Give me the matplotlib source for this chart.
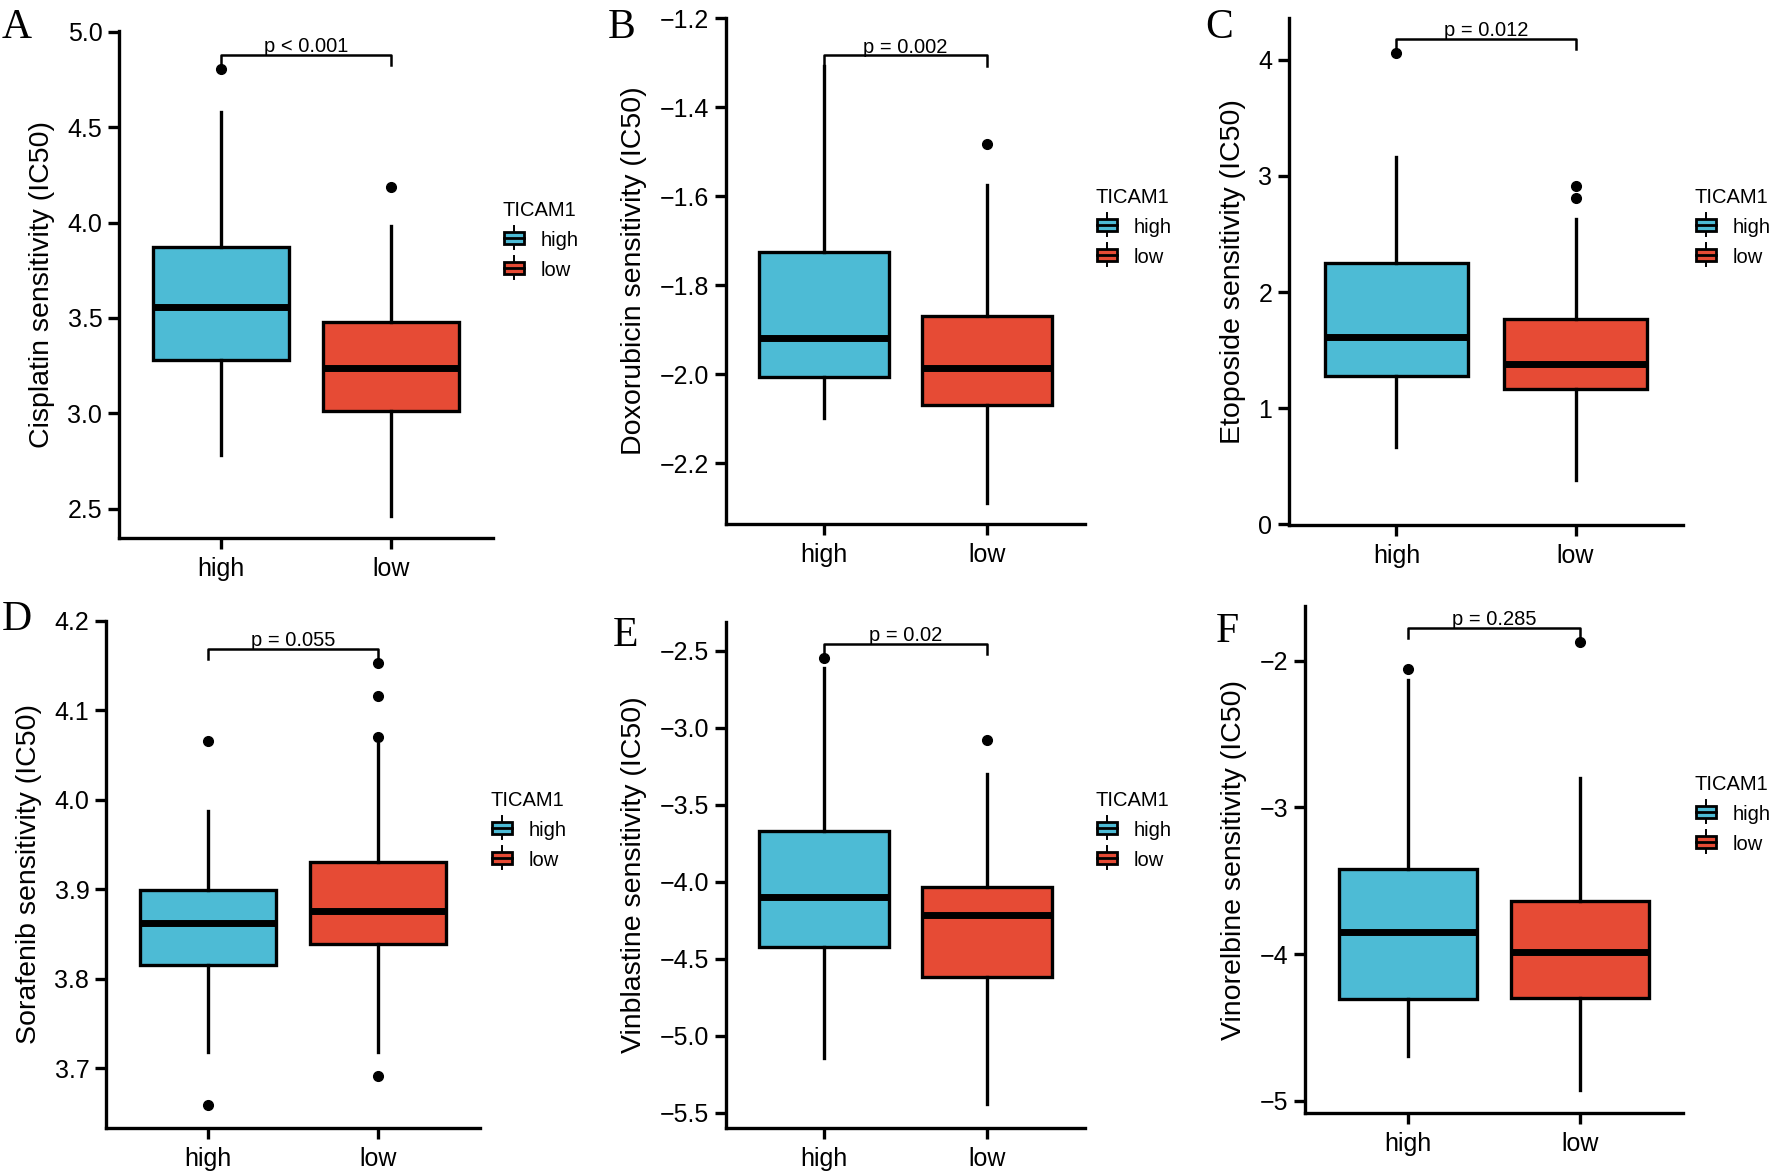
import matplotlib
matplotlib.use('Agg')
import matplotlib.pyplot as plt
from matplotlib.patches import Rectangle, Patch
from matplotlib.lines import Line2D
from matplotlib.legend_handler import HandlerBase

plt.rcParams['font.family'] = ['Liberation Sans', 'DejaVu Sans']

# ---- data ----
drugs = ['Cisplatin', 'Doxorubicin', 'Etoposide', 'Sorafenib', 'Vinblastine', 'Vinorelbine']
groups = ['high', 'low']
panel_tags = ['A', 'B', 'C', 'D', 'E', 'F']
p_labels = ['p < 0.001', 'p = 0.002', 'p = 0.012', 'p = 0.055', 'p = 0.02', 'p = 0.285']

# per drug: [high, low]
whislo = [[2.78, 2.461], [-2.099, -2.288], [0.670, 0.384], [3.718, 3.718], [-5.146, -5.444], [-4.697, -4.923]]
q1 = [[3.282, 3.013], [-2.006, -2.069], [1.276, 1.165], [3.815, 3.839], [-4.422, -4.617], [-4.308, -4.300]]
med = [[3.558, 3.239], [-1.919, -1.985], [1.615, 1.377], [3.862, 3.876], [-4.098, -4.215], [-3.846, -3.987]]
q3 = [[3.872, 3.479], [-1.725, -1.868], [2.246, 1.764], [3.899, 3.930], [-3.668, -4.032], [-3.423, -3.636]]
whishi = [[4.578, 3.982], [-1.307, -1.574], [3.160, 2.627], [3.988, 4.063], [-2.610, -3.300], [-2.133, -2.800]]
fliers = [
    [[4.807], [4.189]],
    [[], [-1.483]],
    [[4.054], [2.912, 2.807]],
    [[4.066, 3.659], [4.153, 4.116, 4.070, 3.691]],
    [[-2.546], [-3.080]],
    [[-2.059], [-1.872]],
]
bracket_y = [4.88, -1.284, 4.18, 4.1685, -2.456, -1.777]

y_ticks = [
    [2.5, 3.0, 3.5, 4.0, 4.5, 5.0],
    [-2.2, -2.0, -1.8, -1.6, -1.4, -1.2],
    [0, 1, 2, 3, 4],
    [3.7, 3.8, 3.9, 4.0, 4.1, 4.2],
    [-5.5, -5.0, -4.5, -4.0, -3.5, -3.0, -2.5],
    [-5, -4, -3, -2],
]
tick_fmt = ['%.1f', '%.1f', '%d', '%.1f', '%.1f', '%d']
y_lims = [(2.346, 5.005), (-2.336, -1.2), (-0.005, 4.358), (3.633, 4.2), (-5.598, -2.312), (-5.082, -1.628)]

# ---- layout (pixels in the 1776x1172 canvas) ----
W, H = 1776, 1172
# left, top, right, bottom of each plotting panel
rects = [(119, 31, 493, 538), (726, 18, 1085, 524), (1289, 18, 1683, 525),
         (106, 621, 480, 1128), (726, 622, 1085, 1128), (1305, 606, 1683, 1113)]
legend_xy = [(502, 201), (1095, 188), (1694, 188), (490, 791), (1095, 791), (1694, 775)]
tag_xy = [(2, 9), (608, 9), (1205, 9), (2, 600), (613, 617), (1216, 613)]

colors = ['#4DBBD5', '#E64B35']
LW = 2.4


class BoxKey(HandlerBase):
    def create_artists(self, legend, orig, xd, yd, w, h, fontsize, trans):
        fc = orig.get_facecolor()
        cx = xd + w / 2
        whisk = Line2D([cx, cx], [yd - 0.25 * h, yd + 1.25 * h], color='black', lw=1.4, transform=trans)
        box = Rectangle((xd + 0.08 * w, yd + 0.1 * h), 0.84 * w, 0.8 * h, facecolor=fc,
                        edgecolor='black', lw=2.0, transform=trans)
        mid = Line2D([xd + 0.08 * w, xd + 0.92 * w], [yd + h / 2] * 2, color='black', lw=2.0, transform=trans)
        return [whisk, box, mid]


fig = plt.figure(figsize=(W / 100, H / 100), dpi=100)

for i, drug in enumerate(drugs):
    l, t, r, b = rects[i]
    ax = fig.add_axes([l / W, 1 - b / H, (r - l) / W, (b - t) / H])

    stats = []
    for g in range(2):
        stats.append(dict(med=med[i][g], q1=q1[i][g], q3=q3[i][g],
                          whislo=whislo[i][g], whishi=whishi[i][g], fliers=fliers[i][g]))
    bp = ax.bxp(stats, positions=[1, 2], widths=0.8, patch_artist=True, showcaps=False,
                boxprops=dict(linewidth=LW, edgecolor='black'),
                medianprops=dict(color='black', linewidth=5, solid_capstyle='butt'),
                whiskerprops=dict(color='black', linewidth=LW),
                flierprops=dict(marker='o', markerfacecolor='black', markeredgecolor='black',
                                markersize=7))
    for patch, c in zip(bp['boxes'], colors):
        patch.set_facecolor(c)

    ax.set_xlim(0.4, 2.6)
    ax.set_ylim(*y_lims[i])
    ax.set_xticks([1, 2])
    ax.set_xticklabels(groups)
    ax.set_yticks(y_ticks[i])
    ax.set_yticklabels([(tick_fmt[i] % v).replace('-', '\u2212') for v in y_ticks[i]])
    ax.set_ylabel(f'{drug} sensitivity (IC50)', fontsize=20.5, labelpad=9)

    for side in ['top', 'right']:
        ax.spines[side].set_visible(False)
    for side in ['left', 'bottom']:
        ax.spines[side].set_linewidth(LW)
    ax.tick_params(width=LW, length=8, labelsize=18, pad=4, colors='black')
    ax.tick_params(axis='x', pad=6)

    # significance bracket
    tip = 0.02 * (y_lims[i][1] - y_lims[i][0])
    yb = bracket_y[i]
    ax.plot([1, 1, 2, 2], [yb - tip, yb, yb, yb - tip], color='black', lw=1.8, clip_on=False)
    ax.annotate(p_labels[i], (1.5, yb), xytext=(0, 2), textcoords='offset points',
                ha='center', va='baseline', fontsize=14.5)

    handles = [Patch(facecolor=c, label=g) for c, g in zip(colors, groups)]
    lx, ly = legend_xy[i]
    leg = fig.legend(handles=handles, title='TICAM1', loc='upper left',
                     bbox_to_anchor=(lx / W, 1 - ly / H), frameon=False, fontsize=14.5,
                     title_fontsize=14.5, handler_map={Patch: BoxKey()}, handlelength=1.2,
                     handleheight=0.8, labelspacing=0.55, handletextpad=0.7,
                     borderpad=0, borderaxespad=0, alignment='left')

    tx, ty = tag_xy[i]
    fig.text(tx / W, 1 - ty / H, panel_tags[i], ha='left', va='top', fontsize=30,
             family='Liberation Serif')

fig.savefig('out.png', dpi=100)
